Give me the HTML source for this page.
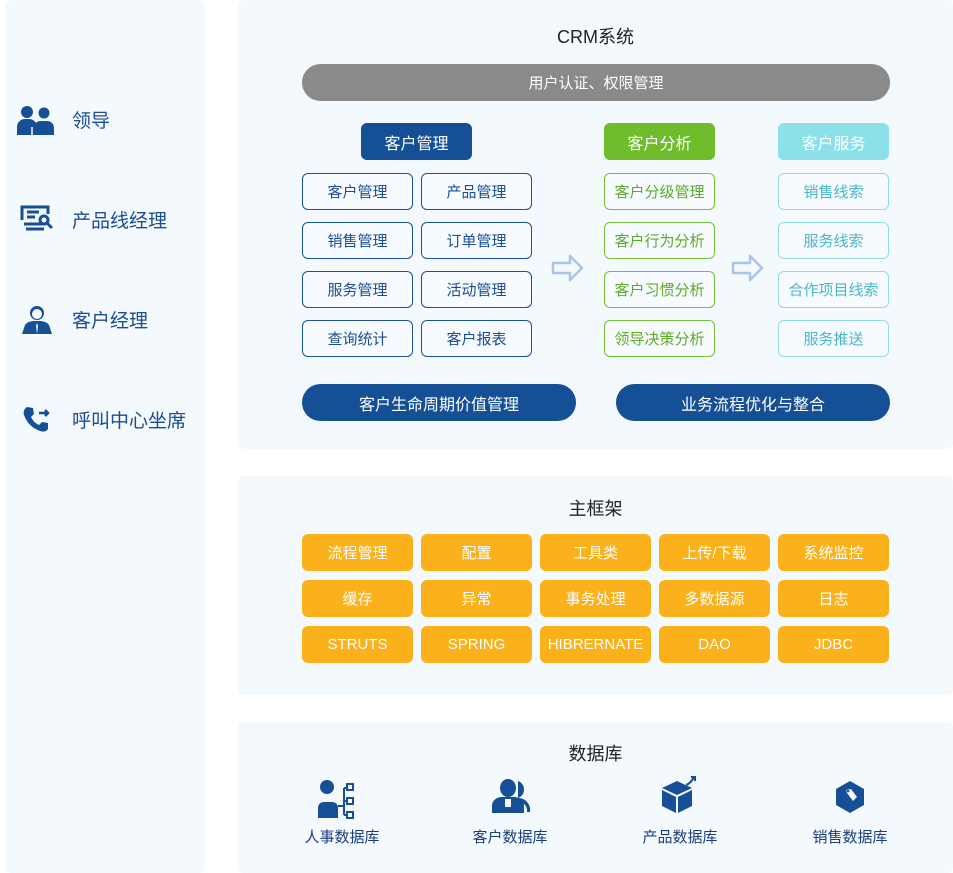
<!DOCTYPE html>
<html><head><meta charset="utf-8"><style>
*{margin:0;padding:0;box-sizing:border-box}
body{width:953px;height:873px;background:#fff;position:relative;overflow:hidden;font-family:"Liberation Sans","Noto Sans CJK SC",sans-serif}
.p{position:absolute;background:#f4f9fe;border-radius:6px}
.b{position:absolute;display:flex;align-items:center;justify-content:center;font-size:15px;border-radius:6px}
.t{position:absolute;font-size:18px;color:#222;text-align:center}
.nb{border:1.5px solid #1a5198;color:#1a4e92;background:#f7fbff}
.gb{border:1.5px solid #72c03a;color:#5cab28;background:#f7fbff}
.cb{border:1.5px solid #8fdce8;color:#4bb6c7;background:#f7fbff}
.o{background:#fab11b;color:#fff}
.l{position:absolute;left:72px;font-size:19px;color:#1a4e92}
.dl{position:absolute;font-size:15px;color:#1a3f7a;text-align:center;width:120px}
</style></head><body>
<div class="p" style="left:5px;top:0;width:200px;height:873px"></div>
<div class="p" style="left:238px;top:0;width:715px;height:449px"></div>
<div class="p" style="left:238px;top:476px;width:715px;height:219px"></div>
<div class="p" style="left:238px;top:722px;width:715px;height:151px"></div>

<svg style="position:absolute;left:17px;top:105px" width="42" height="30" viewBox="0 0 42 30"><g fill="#174f96"><circle cx="10" cy="7" r="6"/><path d="M0 30v-8c0-5 4-8 8-8h4c4 0 8 3 8 8v8z"/><circle cx="27" cy="8" r="5.5"/><path d="M16 30v-7c0-4 4-7 8-7h6c4 0 7 3 7 7v7z"/></g><path d="M15 30v-8" stroke="#f4f9fe" stroke-width="1.5"/></svg>
<div class="l" style="top:106px">领导</div>
<svg style="position:absolute;left:20px;top:204px" width="35" height="28" viewBox="0 0 35 28"><g fill="none" stroke="#174f96" stroke-width="3"><path d="M2 16V3h26v7"/><path d="M7 8h12M7 13h8M4 20h18M6 25h18"/><circle cx="24" cy="16" r="4"/><path d="M27 19l5 5"/></g></svg>
<div class="l" style="top:206px">产品线经理</div>
<svg style="position:absolute;left:22px;top:304px" width="30" height="30" viewBox="0 0 30 30"><g fill="#174f96"><circle cx="15" cy="9" r="7"/><path d="M0 30l3-9c2-3 6-4 10-4h4c4 0 8 1 10 4l3 9z"/></g><circle cx="15" cy="10" r="5" fill="#f4f9fe"/><path d="M15 19l-1 3 1 8 1-8z" fill="#f4f9fe"/></svg>
<div class="l" style="top:306px">客户经理</div>
<svg style="position:absolute;left:22px;top:404px" width="30" height="30" viewBox="0 0 30 30"><path d="M5 3l6 1 1 6-3 3c2 4 4 6 8 8l3-3 6 1v6c-2 3-5 3-8 2C10 24 5 19 2 11 1 8 2 5 5 3z" fill="#174f96"/><path d="M17 9h9M23 6l3 3-3 3" stroke="#174f96" stroke-width="2.5" fill="none"/></svg>
<div class="l" style="top:406px">呼叫中心坐席</div>

<div class="t" style="left:238px;width:715px;top:23px">CRM系统</div>
<div class="b" style="left:302px;top:64px;width:588px;height:37px;background:#8a8a8a;color:#fff;border-radius:19px">用户认证、权限管理</div>

<div class="b" style="left:361px;top:123px;width:111px;height:37px;background:#154f96;color:#fff;font-size:16px">客户管理</div>
<div class="b" style="left:604px;top:123px;width:111px;height:37px;background:#6fbd2c;color:#fff;font-size:16px">客户分析</div>
<div class="b" style="left:778px;top:123px;width:111px;height:37px;background:#8be0ea;color:#fff;font-size:16px">客户服务</div>

<div class="b nb" style="left:302px;top:173px;width:111px;height:37px">客户管理</div>
<div class="b nb" style="left:421px;top:173px;width:111px;height:37px">产品管理</div>
<div class="b nb" style="left:302px;top:222px;width:111px;height:37px">销售管理</div>
<div class="b nb" style="left:421px;top:222px;width:111px;height:37px">订单管理</div>
<div class="b nb" style="left:302px;top:271px;width:111px;height:37px">服务管理</div>
<div class="b nb" style="left:421px;top:271px;width:111px;height:37px">活动管理</div>
<div class="b nb" style="left:302px;top:320px;width:111px;height:37px">查询统计</div>
<div class="b nb" style="left:421px;top:320px;width:111px;height:37px">客户报表</div>

<div class="b gb" style="left:604px;top:173px;width:111px;height:37px">客户分级管理</div>
<div class="b gb" style="left:604px;top:222px;width:111px;height:37px">客户行为分析</div>
<div class="b gb" style="left:604px;top:271px;width:111px;height:37px">客户习惯分析</div>
<div class="b gb" style="left:604px;top:320px;width:111px;height:37px">领导决策分析</div>

<div class="b cb" style="left:778px;top:173px;width:111px;height:37px">销售线索</div>
<div class="b cb" style="left:778px;top:222px;width:111px;height:37px">服务线索</div>
<div class="b cb" style="left:778px;top:271px;width:111px;height:37px">合作项目线索</div>
<div class="b cb" style="left:778px;top:320px;width:111px;height:37px">服务推送</div>

<svg style="position:absolute;left:551px;top:253px" width="34" height="30" viewBox="0 0 34 30"><path d="M2 10h17V3l12 12-12 12v-7H2z" fill="none" stroke="#a9c4e4" stroke-width="2.5" stroke-linejoin="round"/></svg>
<svg style="position:absolute;left:731px;top:253px" width="34" height="30" viewBox="0 0 34 30"><path d="M2 10h17V3l12 12-12 12v-7H2z" fill="none" stroke="#a9c4e4" stroke-width="2.5" stroke-linejoin="round"/></svg>

<div class="b" style="left:302px;top:384px;width:274px;height:37px;background:#154f96;color:#fff;border-radius:19px;font-size:16px">客户生命周期价值管理</div>
<div class="b" style="left:616px;top:384px;width:274px;height:37px;background:#154f96;color:#fff;border-radius:19px;font-size:16px">业务流程优化与整合</div>

<div class="t" style="left:238px;width:715px;top:495px">主框架</div>
<div class="b o" style="left:302px;top:534px;width:111px;height:37px">流程管理</div>
<div class="b o" style="left:421px;top:534px;width:111px;height:37px">配置</div>
<div class="b o" style="left:540px;top:534px;width:111px;height:37px">工具类</div>
<div class="b o" style="left:659px;top:534px;width:111px;height:37px">上传/下载</div>
<div class="b o" style="left:778px;top:534px;width:111px;height:37px">系统监控</div>
<div class="b o" style="left:302px;top:580px;width:111px;height:37px">缓存</div>
<div class="b o" style="left:421px;top:580px;width:111px;height:37px">异常</div>
<div class="b o" style="left:540px;top:580px;width:111px;height:37px">事务处理</div>
<div class="b o" style="left:659px;top:580px;width:111px;height:37px">多数据源</div>
<div class="b o" style="left:778px;top:580px;width:111px;height:37px">日志</div>
<div class="b o" style="left:302px;top:626px;width:111px;height:37px">STRUTS</div>
<div class="b o" style="left:421px;top:626px;width:111px;height:37px">SPRING</div>
<div class="b o" style="left:540px;top:626px;width:111px;height:37px">HIBRERNATE</div>
<div class="b o" style="left:659px;top:626px;width:111px;height:37px">DAO</div>
<div class="b o" style="left:778px;top:626px;width:111px;height:37px">JDBC</div>

<div class="t" style="left:238px;width:715px;top:740px">数据库</div>
<svg style="position:absolute;left:314px;top:778px" width="52" height="42" viewBox="0 0 52 42"><g fill="#174f96"><circle cx="13" cy="9" r="7"/><path d="M4 40V30c0-4 3-6 6-6h8c3 0 6 2 6 6v10z"/></g><g fill="none" stroke="#174f96" stroke-width="2"><path d="M24 28h6M30 10v27M30 10h3M30 23h3M30 37h3"/><rect x="33" y="6" width="6" height="6"/><rect x="33" y="20" width="6" height="6"/><rect x="33" y="34" width="6" height="6"/></g></svg>
<div class="dl" style="left:282px;top:826px">人事数据库</div>
<svg style="position:absolute;left:490px;top:778px" width="42" height="36" viewBox="0 0 42 36"><g fill="#174f96"><ellipse cx="18" cy="10" rx="8" ry="9"/><path d="M2 35v-7c0-6 5-9 10-9h12c5 0 10 3 10 9v7z"/><path d="M28 3a9 9 0 0 1 0 17a12 12 0 0 1 12 14h-3a10 10 0 0 0-9-11z"/></g><rect x="15" y="21" width="6" height="8" fill="#f4f9fe"/></svg>
<div class="dl" style="left:450px;top:826px">客户数据库</div>
<svg style="position:absolute;left:660px;top:774px" width="40" height="40" viewBox="0 0 40 40"><g fill="#174f96"><path d="M2 14l15-7 15 7-15 7z"/><path d="M2 16l14 7v16L2 32z"/><path d="M32 16l-14 7v16l14-7z"/></g><path d="M26 11c3-1 6-4 8-8M31 3h4v4" stroke="#174f96" stroke-width="2" fill="none"/></svg>
<div class="dl" style="left:620px;top:826px">产品数据库</div>
<svg style="position:absolute;left:834px;top:780px" width="32" height="34" viewBox="0 0 32 34"><path d="M16 1l14 8v16l-14 8-14-8V9z" fill="#174f96"/><path d="M12 10l5-1 6 8-4 4-6-8z" fill="#f4f9fe"/><circle cx="14" cy="11" r="1.3" fill="#174f96"/></svg>
<div class="dl" style="left:790px;top:826px">销售数据库</div>
</body></html>
